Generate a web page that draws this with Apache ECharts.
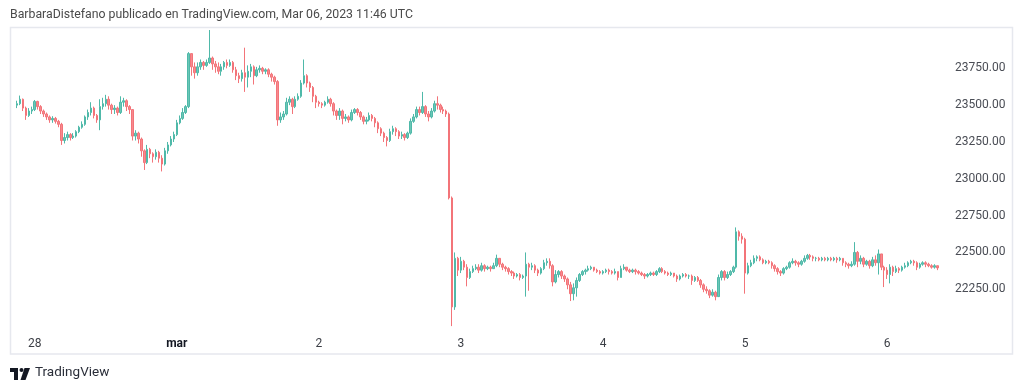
<!DOCTYPE html>
<html>
<head>
<meta charset="utf-8">
<script src="https://cdn.jsdelivr.net/npm/echarts@6/dist/echarts.min.js"></script>
<style>
html,body{margin:0;padding:0;background:#fff;}
#chart{width:1024px;height:391px;}
</style>
</head>
<body>
<div id="chart"></div>
<script>
// ---- data (30-minute candles, BTC/USD, Feb 27 21:00 -> Mar 6) ----
const startTimeUTC = Date.UTC(2023, 1, 27, 21, 0);
const firstOpen = 23500;
const closes = [
23510,23540,23480,23430,23460,23470,23525,23490,23460,23440,
23420,23400,23410,23390,23370,23260,23280,23300,23280,23290,
23320,23350,23370,23420,23450,23480,23430,23400,23490,23510,
23540,23500,23470,23480,23450,23520,23530,23490,23470,23290,
23310,23270,23190,23110,23200,23170,23150,23180,23140,23100,
23190,23230,23270,23300,23380,23410,23450,23490,23850,23760,
23720,23760,23790,23770,23790,23820,23780,23760,23730,23760,
23790,23770,23790,23740,23700,23680,23720,23690,23730,23760,
23700,23740,23750,23730,23740,23710,23690,23660,23400,23420,
23440,23520,23540,23490,23540,23560,23650,23700,23650,23620,
23560,23520,23510,23500,23520,23540,23510,23460,23430,23460,
23410,23420,23400,23450,23470,23450,23420,23390,23400,23430,
23410,23380,23340,23310,23280,23260,23320,23340,23320,23290,
23300,23280,23310,23390,23420,23470,23450,23490,23440,23420,
23460,23510,23500,23470,23460,23440,22870,22130,22460,22380,
22440,22400,22330,22370,22390,22400,22380,22410,22390,22400,
22390,22410,22460,22420,22400,22390,22370,22360,22340,22350,
22330,22340,22420,22400,22410,22380,22360,22390,22430,22440,
22410,22300,22350,22370,22340,22320,22280,22220,22260,22310,
22350,22370,22380,22390,22400,22380,22370,22360,22370,22380,
22370,22360,22370,22330,22390,22400,22380,22370,22380,22370,
22360,22350,22340,22350,22360,22350,22370,22390,22370,22360,
22350,22360,22340,22320,22340,22350,22340,22340,22310,22330,
22310,22280,22250,22240,22210,22230,22200,22330,22370,22330,
22350,22370,22400,22640,22610,22590,22360,22410,22430,22460,
22470,22450,22430,22440,22430,22410,22390,22370,22360,22390,
22400,22430,22440,22430,22420,22440,22460,22480,22470,22460,
22460,22450,22460,22450,22460,22450,22460,22450,22460,22430,
22420,22410,22420,22500,22440,22460,22420,22440,22410,22450,
22430,22490,22400,22380,22350,22400,22370,22390,22380,22400,
22410,22430,22440,22430,22400,22420,22430,22420,22410,22400,
22410,22395
];
const highs = [
23530,23565,23545,23490,23480,23490,23535,23530,23500,23470,
23450,23430,23425,23420,23400,23380,23310,23320,23310,23310,
23330,23360,23390,23430,23470,23520,23490,23440,23540,23550,
23570,23560,23510,23500,23490,23560,23550,23540,23500,23470,
23330,23320,23280,23200,23230,23210,23180,23200,23190,23160,
23210,23250,23290,23320,23400,23430,23480,23500,23860,23850,
23790,23790,23810,23800,23810,24010,23830,23800,23790,23780,
23800,23810,23810,23800,23760,23720,23740,23890,23770,23780,
23770,23760,23770,23760,23750,23750,23720,23700,23670,23450,
23460,23550,23560,23550,23560,23580,23670,23810,23710,23660,
23630,23570,23530,23520,23530,23560,23550,23520,23470,23480,
23470,23440,23430,23470,23480,23480,23460,23430,23420,23450,
23440,23420,23390,23350,23320,23290,23340,23360,23350,23330,
23320,23310,23320,23410,23440,23490,23490,23590,23500,23460,
23480,23530,23560,23510,23490,23470,23450,22880,22500,22470,
22470,22450,22420,22390,22410,22420,22420,22430,22420,22410,
22410,22430,22485,22460,22430,22410,22400,22380,22370,22360,
22360,22350,22500,22430,22430,22420,22390,22400,22450,22460,
22460,22420,22380,22380,22380,22350,22330,22300,22290,22330,
22360,22380,22390,22410,22410,22400,22390,22380,22380,22390,
22390,22380,22390,22370,22410,22420,22400,22390,22390,22390,
22380,22370,22360,22360,22370,22370,22380,22400,22400,22380,
22370,22370,22360,22350,22350,22360,22360,22350,22350,22340,
22340,22320,22290,22270,22250,22250,22240,22350,22380,22380,
22370,22380,22410,22670,22650,22630,22600,22430,22450,22480,
22480,22480,22460,22450,22450,22440,22420,22400,22380,22400,
22410,22440,22460,22450,22440,22450,22480,22490,22490,22480,
22470,22470,22470,22470,22470,22470,22470,22470,22470,22460,
22440,22430,22440,22570,22510,22480,22470,22450,22450,22470,
22480,22520,22490,22410,22400,22420,22410,22410,22400,22410,
22430,22440,22450,22450,22440,22430,22440,22440,22430,22420,
22420,22410
];
const lows = [
23480,23500,23460,23400,23420,23440,23460,23470,23440,23420,
23400,23380,23380,23375,23350,23230,23240,23260,23260,23270,
23280,23310,23340,23360,23400,23430,23410,23380,23330,23470,
23490,23470,23440,23440,23430,23440,23490,23460,23440,23260,
23260,23240,23150,23060,23100,23140,23110,23130,23110,23050,
23090,23170,23220,23250,23290,23370,23400,23440,23480,23700,
23680,23700,23740,23740,23760,23780,23740,23720,23710,23700,
23740,23750,23760,23720,23670,23650,23660,23590,23620,23690,
23640,23690,23720,23710,23710,23690,23660,23640,23360,23380,
23400,23430,23500,23440,23480,23530,23550,23640,23620,23590,
23520,23480,23490,23480,23490,23510,23490,23430,23400,23400,
23370,23390,23380,23390,23440,23430,23400,23370,23370,23390,
23390,23350,23310,23290,23250,23220,23250,23300,23290,23270,
23270,23260,23270,23300,23380,23410,23430,23440,23420,23390,
23410,23450,23470,23450,23440,23420,22860,22000,22110,22340,
22360,22380,22270,22320,22360,22380,22360,22370,22370,22380,
22370,22390,22400,22400,22380,22370,22350,22340,22320,22330,
22310,22320,22200,22240,22380,22360,22340,22350,22380,22410,
22390,22270,22290,22330,22320,22300,22250,22170,22175,22200,
22300,22340,22350,22370,22380,22370,22360,22350,22350,22360,
22350,22350,22350,22310,22330,22380,22370,22360,22360,22350,
22350,22340,22320,22330,22340,22340,22340,22360,22360,22350,
22340,22340,22330,22300,22310,22330,22330,22320,22280,22300,
22300,22260,22230,22220,22190,22200,22175,22200,22310,22310,
22320,22340,22360,22390,22580,22560,22220,22350,22400,22420,
22440,22440,22420,22420,22420,22390,22370,22350,22340,22350,
22380,22390,22420,22410,22400,22410,22430,22450,22450,22440,
22440,22440,22440,22440,22440,22440,22440,22430,22440,22410,
22400,22390,22400,22410,22400,22420,22400,22410,22390,22400,
22410,22350,22380,22265,22320,22290,22340,22360,22360,22370,
22390,22400,22420,22410,22380,22390,22410,22400,22400,22390,
22390,22380
];
const dayTickLabels = ['28', 'mar', '2', '3', '4', '5', '6'];
const priceTicks = [22250, 22500, 22750, 23000, 23250, 23500, 23750];

// ---- build ----
const categories = closes.map((_, i) => new Date(startTimeUTC + i * 30 * 60000).toISOString().slice(0, 16));
const candles = closes.map((c, i) => {
  const o = i === 0 ? firstOpen : closes[i - 1];
  return [o, c, Math.min(lows[i], o, c), Math.max(highs[i], o, c)];
});
const midnightIdx = [];
categories.forEach((t, i) => { if (t.endsWith('T00:00')) midnightIdx.push(i); });
const labelFor = {};
midnightIdx.forEach((idx, k) => { labelFor[idx] = dayTickLabels[k]; });

const chart = echarts.init(document.getElementById('chart'), null, {renderer: 'canvas'});
chart.setOption({
  animation: false,
  backgroundColor: '#ffffff',
  grid: {left: 15.5, right: 85, top: 31.5, bottom: 64.9},
  xAxis: {
    type: 'category',
    data: categories,
    boundaryGap: true,
    axisLine: {show: false},
    axisTick: {show: false},
    splitLine: {show: false},
    axisLabel: {
      margin: 12,
      interval: (idx) => labelFor[idx] !== undefined,
      formatter: (v, idx) => {
        const l = labelFor[idx];
        if (l === undefined) return '';
        return l === 'mar' ? '{b|mar}' : l;
      },
      color: '#3b3e45',
      fontFamily: 'Roboto',
      fontSize: 12,
      rich: {b: {fontWeight: 'bold', color: '#131722', fontFamily: 'Roboto', fontSize: 12}}
    }
  },
  yAxis: {
    type: 'value',
    position: 'right',
    min: 22000,
    max: 24000,
    interval: 250,
    scale: true,
    axisLine: {show: false},
    axisTick: {show: false},
    splitLine: {show: false},
    axisLabel: {
      margin: 16,
      align: 'left',
      color: '#4a4d55',
      fontFamily: 'Roboto',
      fontSize: 12,
      formatter: (v) => priceTicks.indexOf(v) >= 0 ? v.toFixed(2) : ''
    }
  },
  series: [{
    type: 'candlestick',
    data: candles,
    barWidth: 2,
    clip: false,
    itemStyle: {
      color: '#6cc6b7', color0: '#f7898f',
      borderColor: '#4fb9a9', borderColor0: '#f37479',
      borderWidth: 1
    }
  }],
  graphic: [
    {type: 'rect', shape: {x: 10.5, y: 27.5, width: 1002, height: 326.5},
     style: {fill: 'none', stroke: '#e6e8ee', lineWidth: 1.5}, silent: true, z: -1},
    {type: 'text', left: 10, top: 9,
     style: {text: 'BarbaraDistefano publicado en TradingView.com, Mar 06, 2023 11:46 UTC',
             font: '12.3px Roboto', fill: '#4a4a4a'}},
    {type: 'group', left: 10, top: 368, children: [
      {type: 'rect', shape: {x: 0, y: 0, width: 8, height: 4}, style: {fill: '#131722'}},
      {type: 'rect', shape: {x: 4, y: 0, width: 4, height: 12}, style: {fill: '#131722'}},
      {type: 'circle', shape: {cx: 11.5, cy: 2, r: 2}, style: {fill: '#131722'}},
      {type: 'polygon', shape: {points: [[14.5, 0], [20, 0], [15.5, 12], [10.5, 12]]}, style: {fill: '#131722'}}
    ]},
    {type: 'text', left: 35, top: 366,
     style: {text: 'TradingView', font: '13.5px Roboto', fill: '#2a2e39'}}
  ]
});
</script>
</body>
</html>
